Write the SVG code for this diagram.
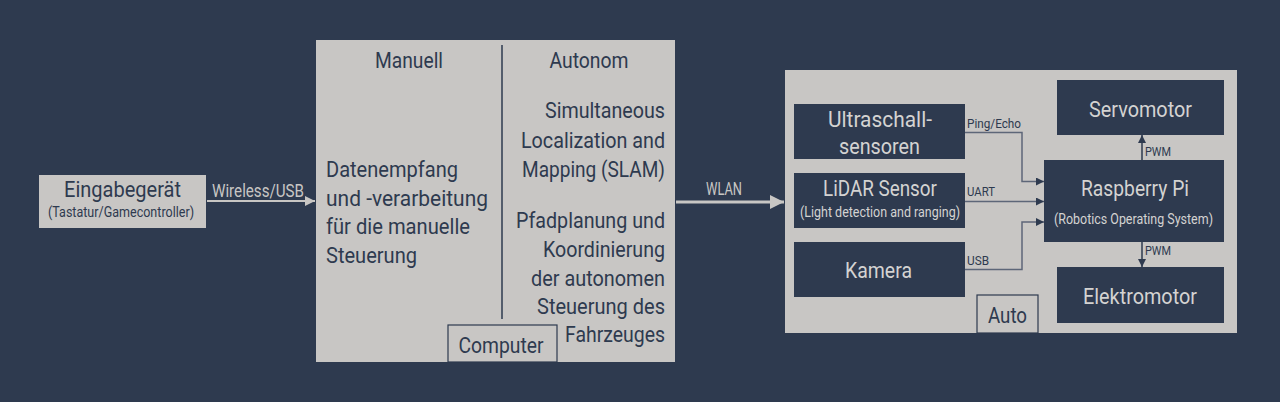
<svg xmlns="http://www.w3.org/2000/svg" width="1280" height="402" viewBox="0 0 1280 402">
<style>
text{font-family:Roboto,"Liberation Sans",sans-serif;}
.lt{fill:#c8c6c4;}
.dk{fill:#2e3a4f;}
.tl{fill:#2e3a4f;font-size:22px;}
.td{fill:#d4d3d2;font-size:22px;}
.sm{font-size:14px;}
.lbl{fill:#2e3a4f;font-size:13.5px;}
.c{text-anchor:middle;}
.r{text-anchor:end;}
.conn{fill:none;stroke:#5d6678;stroke-width:1.5;}
.dconn{fill:none;stroke:#2e3a4f;stroke-width:1.5;}
</style>
<defs>
<marker id="ah" viewBox="0 0 10 10" refX="10" refY="5" markerWidth="8" markerHeight="8" markerUnits="userSpaceOnUse" orient="auto"><path d="M0,0L10,5L0,10z" fill="#2e3a4f"/></marker>
<marker id="ahl" viewBox="0 0 10 10" refX="10" refY="5" markerWidth="14" markerHeight="14" markerUnits="userSpaceOnUse" orient="auto"><path d="M0,0L10,5L0,10z" fill="#c8c6c4"/></marker>
<marker id="ahw" viewBox="0 0 10 10" refX="10" refY="5" markerWidth="10" markerHeight="10" markerUnits="userSpaceOnUse" orient="auto"><path d="M0,0L10,5L0,10z" fill="#c8c6c4"/></marker>
</defs>
<rect width="1280" height="402" fill="#2e3a4f"/>

<g id="eingabe">
<rect class="lt" x="39" y="175" width="167" height="53"/>
<text class="tl c" x="122.5" y="196.5" textLength="117" lengthAdjust="spacingAndGlyphs">Eingabegerät</text>
<text class="tl c sm" x="121" y="217" textLength="146" lengthAdjust="spacingAndGlyphs">(Tastatur/Gamecontroller)</text>
</g>

<g id="computer">
<rect class="lt" x="316" y="40" width="359" height="322"/>
<line x1="502" y1="45" x2="502" y2="319" stroke="#2e3a4f" stroke-width="1.5"/>
<text class="tl c" x="409" y="68" textLength="68" lengthAdjust="spacingAndGlyphs">Manuell</text>
<text class="tl c" x="589" y="68" textLength="79" lengthAdjust="spacingAndGlyphs">Autonom</text>
<text class="tl" x="326" y="177" textLength="132" lengthAdjust="spacingAndGlyphs">Datenempfang</text>
<text class="tl" x="326" y="205.5" textLength="162" lengthAdjust="spacingAndGlyphs">und -verarbeitung</text>
<text class="tl" x="326" y="234" textLength="144" lengthAdjust="spacingAndGlyphs">für die manuelle</text>
<text class="tl" x="326" y="262.5" textLength="91" lengthAdjust="spacingAndGlyphs">Steuerung</text>
<text class="tl r" x="665" y="118" textLength="120" lengthAdjust="spacingAndGlyphs">Simultaneous</text>
<text class="tl r" x="665" y="148" textLength="144" lengthAdjust="spacingAndGlyphs">Localization and</text>
<text class="tl r" x="665" y="177" textLength="143" lengthAdjust="spacingAndGlyphs">Mapping (SLAM)</text>
<text class="tl r" x="665" y="228" textLength="149" lengthAdjust="spacingAndGlyphs">Pfadplanung und</text>
<text class="tl r" x="665" y="257" textLength="122" lengthAdjust="spacingAndGlyphs">Koordinierung</text>
<text class="tl r" x="665" y="286" textLength="134" lengthAdjust="spacingAndGlyphs">der autonomen</text>
<text class="tl r" x="665" y="314" textLength="128" lengthAdjust="spacingAndGlyphs">Steuerung des</text>
<text class="tl r" x="665" y="342" textLength="100" lengthAdjust="spacingAndGlyphs">Fahrzeuges</text>
<rect x="448" y="325" width="109" height="37" fill="none" stroke="#2e3a4f" stroke-width="1.2"/>
<text class="tl c" x="501" y="353" textLength="85" lengthAdjust="spacingAndGlyphs">Computer</text>
</g>

<g id="auto">
<rect class="lt" x="785" y="70" width="452" height="263"/>
<rect x="977" y="295" width="61" height="38" fill="none" stroke="#2e3a4f" stroke-width="1.2"/>
<text class="tl c" x="1007.5" y="323" textLength="39" lengthAdjust="spacingAndGlyphs">Auto</text>
</g>

<g id="ultraschall">
<rect class="dk" x="794" y="104" width="171" height="55"/>
<text class="td c" x="880" y="127" textLength="104" lengthAdjust="spacingAndGlyphs">Ultraschall-</text>
<text class="td c" x="879.5" y="154" textLength="81" lengthAdjust="spacingAndGlyphs">sensoren</text>
</g>

<g id="lidar">
<rect class="dk" x="794" y="173" width="171" height="55"/>
<text class="td c" x="880" y="196" textLength="114" lengthAdjust="spacingAndGlyphs">LiDAR Sensor</text>
<text class="td c sm" x="880" y="217" textLength="160" lengthAdjust="spacingAndGlyphs">(Light detection and ranging)</text>
</g>

<g id="kamera">
<rect class="dk" x="794" y="242" width="171" height="55"/>
<text class="td c" x="878.5" y="278" textLength="67" lengthAdjust="spacingAndGlyphs">Kamera</text>
</g>

<g id="raspberry">
<rect class="dk" x="1044" y="160" width="180" height="82"/>
<text class="td c" x="1135" y="196" textLength="108" lengthAdjust="spacingAndGlyphs">Raspberry Pi</text>
<text class="td c sm" x="1133.5" y="224" textLength="159" lengthAdjust="spacingAndGlyphs">(Robotics Operating System)</text>
</g>

<g id="servomotor">
<rect class="dk" x="1057" y="80" width="167" height="55"/>
<text class="td c" x="1140.5" y="117" textLength="103" lengthAdjust="spacingAndGlyphs">Servomotor</text>
</g>

<g id="elektromotor">
<rect class="dk" x="1057" y="267" width="167" height="56"/>
<text class="td c" x="1140" y="304" textLength="114" lengthAdjust="spacingAndGlyphs">Elektromotor</text>
</g>

<g id="connectors">
<line x1="207" y1="201" x2="315" y2="201" stroke="#c8c6c4" stroke-width="2" marker-end="url(#ahw)"/>
<text class="lt" x="212" y="196.5" font-size="18" textLength="92" lengthAdjust="spacingAndGlyphs">Wireless/USB</text>
<line x1="676" y1="202" x2="784" y2="202" stroke="#c8c6c4" stroke-width="3" marker-end="url(#ahl)"/>
<text class="lt" x="706" y="195" font-size="18" textLength="36" lengthAdjust="spacingAndGlyphs">WLAN</text>
<path class="conn" d="M965,132.5H1022V181.5H1044" marker-end="url(#ah)"/>
<text class="lbl" x="967" y="128" textLength="54" lengthAdjust="spacingAndGlyphs">Ping/Echo</text>
<path class="conn" d="M965,201.5H1044" marker-end="url(#ah)"/>
<text class="lbl" x="967" y="196" textLength="28" lengthAdjust="spacingAndGlyphs">UART</text>
<path class="conn" d="M965,269.5H1022V222H1044" marker-end="url(#ah)"/>
<text class="lbl" x="967" y="265" textLength="22" lengthAdjust="spacingAndGlyphs">USB</text>
<path class="dconn" d="M1142,160V135" marker-end="url(#ah)"/>
<text class="lbl" x="1145" y="156" textLength="26" lengthAdjust="spacingAndGlyphs">PWM</text>
<path class="dconn" d="M1142,242V267" marker-end="url(#ah)"/>
<text class="lbl" x="1145" y="255" textLength="26" lengthAdjust="spacingAndGlyphs">PWM</text>
</g>
</svg>
